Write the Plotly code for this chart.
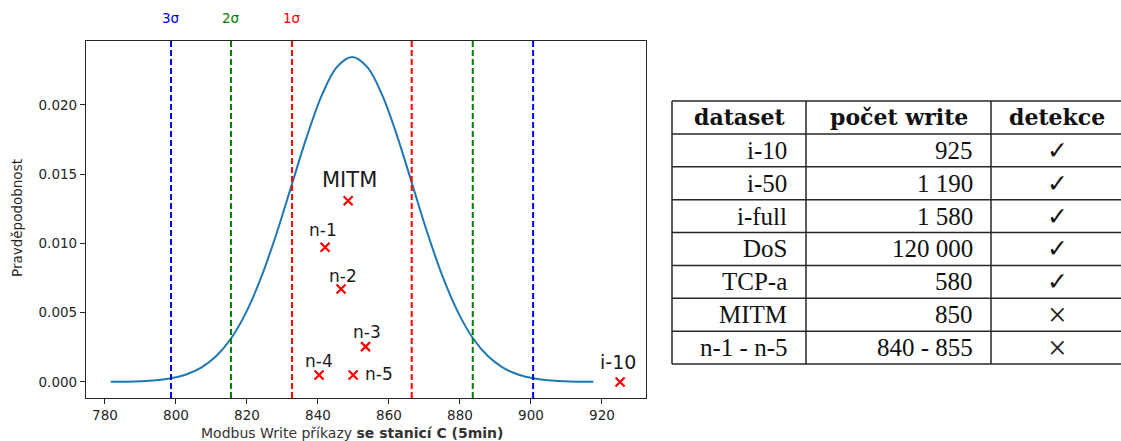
import plotly.graph_objects as go

W, H = 1121, 441

# ---------------- data ----------------
curve_x = [781.6, 785.85, 790.1, 794.35, 798.6, 802.85, 807.1, 811.35, 815.6, 819.85,
           824.1, 828.35, 832.6, 836.85, 841.1, 845.35, 849.6, 853.85, 858.1, 862.35,
           866.6, 870.85, 875.1, 879.35, 883.6, 887.85, 892.1, 896.35, 900.6, 904.85,
           909.1, 913.35, 917.6]
curve_y = [0.0000079, 0.0000207, 0.0000513, 0.000119, 0.000261, 0.000535, 0.001031,
           0.001867, 0.003176, 0.00508, 0.00762, 0.01074, 0.01423, 0.01771, 0.02071,
           0.02275, 0.02347, 0.02275, 0.02071, 0.01771, 0.01423, 0.01074, 0.00762,
           0.00508, 0.003176, 0.001867, 0.001031, 0.000535, 0.000261, 0.000119,
           0.0000513, 0.0000207, 0.0000079]

sigma_labels = ["3σ", "2σ", "1σ"]
sigma_colors = ["#0000ff", "#008000", "#ff0000"]
sigma_left = [798.6, 815.5, 832.7]
sigma_right = [900.6, 883.6, 866.4]

point_names = ["MITM", "n-1", "n-2", "n-3", "n-4", "n-5", "i-10"]
point_x = [848.5, 842.0, 846.5, 853.4, 840.3, 849.9, 925.1]
point_y = [0.01309, 0.00973, 0.00671, 0.00255, 0.0005, 0.0005, 0.0]

x_ticks = [780, 800, 820, 840, 860, 880, 900, 920]
y_ticks = [0.000, 0.005, 0.010, 0.015, 0.020]

table_header = ["dataset", "počet write", "detekce"]
table_dataset = ["i-10", "i-50", "i-full", "DoS", "TCP-a", "MITM", "n-1 - n-5"]
table_count = ["925", "1 190", "1 580", "120 000", "580", "850", "840 - 855"]
table_detect = ["✓", "✓", "✓", "✓", "✓", "×", "×"]

# ---------------- figure ----------------
fig = go.Figure()

fig.add_trace(go.Scatter(x=curve_x, y=curve_y, mode="lines",
                         line=dict(color="#1f77b4", width=2, shape="spline"),
                         hoverinfo="skip", showlegend=False))

fig.add_trace(go.Scatter(x=point_x, y=point_y, mode="markers",
                         marker=dict(symbol="x-thin", size=9, color="red",
                                     line=dict(color="red", width=2.2)),
                         showlegend=False))

shapes = []
for xs, c in zip(sigma_left, sigma_colors):
    shapes.append(dict(type="line", xref="x", yref="y domain", x0=xs, x1=xs, y0=0, y1=1,
                       line=dict(color=c, width=2, dash="6px,3px")))
for xs, c in zip(sigma_right, sigma_colors):
    shapes.append(dict(type="line", xref="x", yref="y domain", x0=xs, x1=xs, y0=0, y1=1,
                       line=dict(color=c, width=2, dash="6px,3px")))

annotations = []
for lab, xs, c in zip(sigma_labels, sigma_left, sigma_colors):
    annotations.append(dict(text=lab, x=xs, y=1 - 18 / H, xref="x", yref="paper",
                            showarrow=False, xanchor="center", yanchor="middle",
                            font=dict(family="DejaVu Sans", size=13.5, color=c)))

# point labels (offsets in pixels relative to markers)
label_cfg = {
    "MITM": dict(xshift=1, yshift=21, xanchor="center", size=21),
    "n-1": dict(xshift=-2, yshift=17, xanchor="center", size=17),
    "n-2": dict(xshift=2, yshift=13, xanchor="center", size=17),
    "n-3": dict(xshift=1, yshift=15, xanchor="center", size=17),
    "n-4": dict(xshift=0, yshift=14, xanchor="center", size=17),
    "n-5": dict(xshift=10, yshift=1, xanchor="left", size=17),
    "i-10": dict(xshift=-2, yshift=20, xanchor="center", size=19),
}
for name, xs, ys in zip(point_names, point_x, point_y):
    cfg = label_cfg[name]
    annotations.append(dict(text=name, x=xs, y=ys, xref="x", yref="y", showarrow=False,
                            xanchor=cfg["xanchor"], yanchor="middle",
                            xshift=cfg["xshift"], yshift=cfg["yshift"],
                            font=dict(family="DejaVu Sans", size=cfg["size"], color="#1a1a1a")))

annotations.append(dict(text="Pravděpodobnost", x=17 / W, y=1 - 218 / H, xref="paper", yref="paper",
                        showarrow=False, textangle=-90, xanchor="center", yanchor="middle",
                        font=dict(family="DejaVu Sans", size=13.5, color="#262626")))
annotations.append(dict(text="Modbus Write příkazy <b>se stanicí C (5min)</b>", x=352 / W, y=1 - 433 / H,
                        xref="paper", yref="paper", showarrow=False, xanchor="center", yanchor="middle",
                        font=dict(family="DejaVu Sans", size=14, color="#333333")))

# ---------------- table ----------------
t_left, t_c1, t_c2, t_right = 672, 806, 991, 1123
t_top, t_bottom = 101, 364
n_rows = len(table_dataset) + 1
row_h = (t_bottom - t_top) / n_rows
tcol = "#262626"
for i in range(n_rows + 1):
    yy = t_top + i * row_h
    shapes.append(dict(type="line", xref="paper", yref="paper", x0=t_left / W, x1=t_right / W,
                       y0=1 - yy / H, y1=1 - yy / H, line=dict(color=tcol, width=1.5)))
for xx in [t_left, t_c1, t_c2, t_right]:
    shapes.append(dict(type="line", xref="paper", yref="paper", x0=xx / W, x1=xx / W,
                       y0=1 - t_top / H, y1=1 - t_bottom / H, line=dict(color=tcol, width=1.5)))

header_x = [739, 898.5, 1057]
for txt, hx in zip(table_header, header_x):
    annotations.append(dict(text="<b>" + txt + "</b>", x=hx / W, y=1 - (t_top + row_h / 2) / H,
                            xref="paper", yref="paper", showarrow=False,
                            xanchor="center", yanchor="middle",
                            font=dict(family="DejaVu Serif", size=22, color="#111")))

for r, (d, c, k) in enumerate(zip(table_dataset, table_count, table_detect)):
    yc = 1 - (t_top + (r + 1.5) * row_h) / H
    annotations.append(dict(text=d, x=789 / W, y=yc, xref="paper", yref="paper", showarrow=False,
                            xanchor="right", yanchor="middle",
                            font=dict(family="Liberation Serif", size=25, color="#111")))
    annotations.append(dict(text=c, x=975 / W, y=yc, xref="paper", yref="paper", showarrow=False,
                            xanchor="right", yanchor="middle",
                            font=dict(family="Liberation Serif", size=25, color="#111")))
    if k == "✓":
        kfont = dict(family="DejaVu Sans", size=25, color="#111")
    else:
        kfont = dict(family="Liberation Serif", size=33, color="#222")
    annotations.append(dict(text=k, x=1057 / W, y=yc, xref="paper", yref="paper", showarrow=False,
                            xanchor="center", yanchor="middle", font=kfont))

axis_common = dict(showline=True, mirror=True, linecolor="#262626", linewidth=1.2,
                   ticks="outside", ticklen=5, tickwidth=1, tickcolor="#262626",
                   showgrid=False, zeroline=False,
                   tickfont=dict(family="DejaVu Sans", size=13.5, color="#262626"))

fig.update_layout(
    width=W, height=H,
    margin=dict(l=0, r=0, t=0, b=0),
    paper_bgcolor="white", plot_bgcolor="white",
    xaxis=dict(domain=[86 / W, 646 / W], range=[774.65, 932.4], tickvals=x_ticks, **axis_common),
    yaxis=dict(domain=[1 - 398 / H, 1 - 41 / H], range=[-0.00116, 0.02462], tickvals=y_ticks,
               tickformat=".3f", **axis_common),
    shapes=shapes, annotations=annotations, showlegend=False,
)

fig.write_html("out.html")
